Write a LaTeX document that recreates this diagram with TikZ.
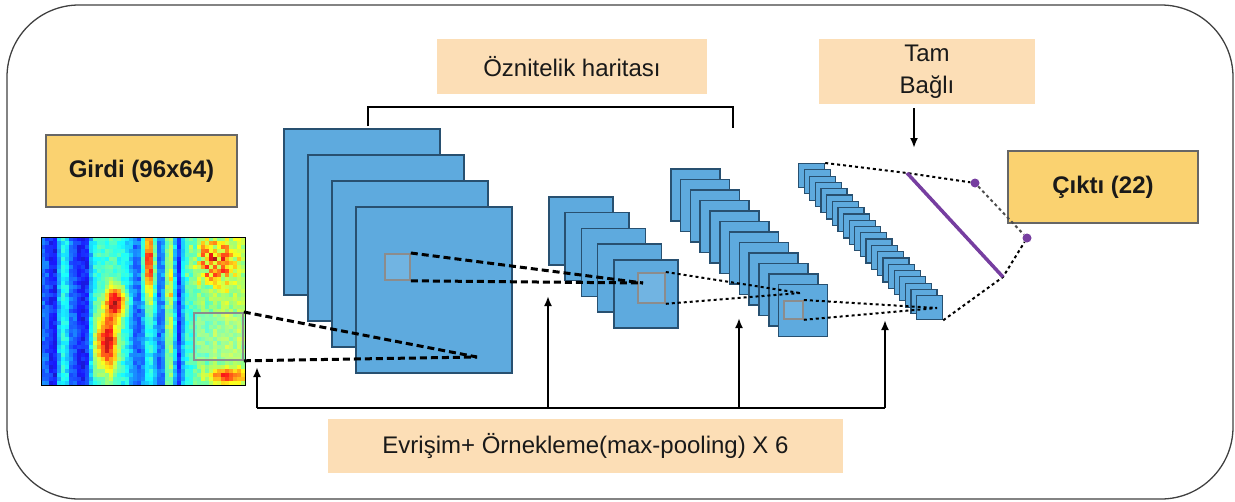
\documentclass[tikz,border=0pt]{standalone}
\usepackage{fontspec}
\setmainfont{Liberation Sans}
\usetikzlibrary{arrows.meta}

\definecolor{mapfill}{RGB}{94,170,222}
\definecolor{mapedge}{RGB}{40,80,112}
\definecolor{boxyellow}{RGB}{250,210,112}
\definecolor{boxpeach}{RGB}{252,222,182}
\definecolor{fcpurple}{RGB}{118,62,160}
\definecolor{inktext}{RGB}{25,25,25}

\tikzset{
  fmap/.style={draw=mapedge, fill=mapfill, line width=1.5pt, inner sep=0pt, anchor=north west},
  patch/.style={draw=black!45, line width=1.8pt, fill=white, fill opacity=0.12, inner sep=0pt, anchor=north west},
  ybox/.style={draw=black!60, line width=1.5pt, fill=boxyellow, inner sep=0pt,
               text=inktext, font=\fontsize{24}{32}\selectfont\bfseries},
  pbox/.style={fill=boxpeach, inner sep=0pt, align=center,
               text=inktext, font=\fontsize{24}{32}\selectfont},
  thickdash/.style={line width=3pt, dash pattern=on 7pt off 4pt},
  thindot/.style={line width=2pt, dash pattern=on 3pt off 3pt},
  feed/.style={line width=2pt, -{Latex[length=10pt,width=8pt]}},
}

\begin{document}
\begin{tikzpicture}[x=1pt, y=-1pt]
\useasboundingbox (0,0) rectangle (1235,501);

% outer frame
\draw[line width=1.3pt, draw=black!75, rounded corners=72pt] (7,5) rectangle (1233,499);

% ---------- input spectrogram (jet colour map) ----------
\def\spcols{{0.22,0.2,0.14,0.12,0.3,0.38,0.35,0.22,0.2,0.14,0.12,0.14,0.3,0.4,0.42,0.4,0.42,0.45,0.42,0.4,0.38,0.35,0.3,0.22,0.2,0.25,0.35,0.38,0.3,0.2,0.25,0.45,0.5,0.3,0.14,0.3,0.4,0.42,0.45,0.48,0.5,0.47,0.48,0.52,0.5,0.52,0.55,0.52,0.52,0.55,0.52}}
\pgfmathsetseed{11}
\begin{scope}
\clip (41,237) rectangle (245,385);
\foreach \i in {0,...,50}{
  \foreach \j in {0,...,36}{
    \pgfmathsetmacro\cx{43+4*\i}
    \pgfmathsetmacro\cy{239+4*\j}
    \pgfmathsetmacro\base{\spcols[\i]}
    \pgfmathsetmacro\vv{\base + 0.1*rnd - 0.05
      + 0.5*exp(-min(9,((\cx-116)/10)^2+((\cy-302)/15)^2))
      + 0.5*exp(-min(9,((\cx-107)/11)^2+((\cy-342)/28)^2))
      + 0.5*exp(-min(9,((\cx-149)/6)^2+((\cy-262)/40)^2))
      + 0.2*rnd*exp(-min(9,((\cx-170)/4)^2+((\cy-300)/40)^2))
      + 0.5*rnd*exp(-min(9,((\cx-212)/22)^2+((\cy-262)/24)^2))
      + 0.35*exp(-min(9,((\cx-228)/18)^2+((\cy-376)/7)^2))}
    \pgfmathsetmacro\vr{max(0,min(1,1.5-abs(4*\vv-3)))}
    \pgfmathsetmacro\vg{max(0,min(1,1.5-abs(4*\vv-2)))}
    \pgfmathsetmacro\vb{max(0,min(1,1.5-abs(4*\vv-1)))}
    \definecolor{spc}{rgb}{\vr,\vg,\vb}
    \fill[spc!90!white] (41+4*\i,237+4*\j) rectangle ++(4.3,4.3);
  }
}
\end{scope}
\node[draw=black, line width=1pt, minimum width=204, minimum height=148, inner sep=0pt, anchor=north west] (spec) at (41,237) {};
\node[patch, minimum width=49, minimum height=47] (p0) at (193,312) {};

% ---------- labels ----------
\node[ybox, minimum width=191, minimum height=72] (girdi) at (141.5,171) {Girdi (96x64)};
\node[ybox, minimum width=190, minimum height=72] (cikti) at (1103,187) {Çıktı (22)};
\node[pbox, minimum width=270, minimum height=55] (oz) at (572,66.5) {Öznitelik haritası};
\node[pbox, minimum width=216, minimum height=65] (tam) at (927,71.5) {Tam\\Bağlı};
\node[pbox, minimum width=515, minimum height=54] (evr) at (585.5,446) {Evrişim+ Örnekleme(max-pooling) X 6};

% ---------- convolution layer 1 ----------
\foreach \k in {0,...,3}
  \node[fmap, minimum width=156, minimum height=166] (la\k) at (283+24*\k,128+26*\k) {};
\node[patch, minimum width=25, minimum height=26] (p1) at (384,253) {};
\coordinate (c1) at (477,357);
\draw[thickdash] (p0.north east) -- (c1);
\draw[thickdash] (p0.south east) -- (c1);

% ---------- convolution layer 2 ----------
\foreach \k in {0,...,4}
  \node[fmap, minimum width=64, minimum height=68] (lb\k) at (548+16.25*\k,196+15.75*\k) {};
\node[patch, minimum width=27, minimum height=30] (p2) at (637,272) {};
\coordinate (c2) at (643,283);
\draw[thickdash] (p1.north east) -- (c2);
\draw[thickdash] (p1.south east) -- (c2);

% ---------- convolution layer 3 ----------
\foreach \k in {0,...,11}
  \node[fmap, minimum width=49, minimum height=52] (lc\k) at (670+9.8*\k,168+10.5*\k) {};
\node[patch, minimum width=19, minimum height=18] (p3) at (783,300) {};
\coordinate (c3) at (800,293);
\draw[thindot] (p2.north east) -- (c3);
\draw[thindot] (p2.south east) -- (c3);

% ---------- fully connected stack ----------
\foreach \k in {0,...,21}
  \node[fmap, line width=1.2pt, minimum width=26, minimum height=24] (fc\k) at (798+5.62*\k,163+6.29*\k) {};
\coordinate (c4) at (937,308);
\draw[thindot] (p3.north east) -- (c4);
\draw[thindot] (p3.south east) -- (c4);

% ---------- output layer ----------
\coordinate (pa) at (907,173);
\coordinate (pb) at (1003,277);
\node[circle, fill=fcpurple, inner sep=0pt, minimum size=9] (o1) at (975,183) {};
\node[circle, fill=fcpurple, inner sep=0pt, minimum size=9] (o2) at (1027,238) {};
\draw[thindot] (fc0.north east) -- (pa) -- (o1);
\draw[thindot, black!70] (o1) -- (o2);
\draw[thindot] (fc21.south east) -- (pb) -- (o2);
\draw[fcpurple, line width=3.5pt] (pa) -- (pb);

% ---------- brackets and arrows ----------
\coordinate (bl) at (368,107);
\coordinate (br) at (733,107);
\draw[line width=2pt] (368,126) -- (bl) -- (br) -- (733,128);

\coordinate (tamtop) at (914,108);
\coordinate (tamtip) at (914,148);
\draw[feed] (tamtop) -- (tamtip);

\coordinate (bus0) at (257,408);
\coordinate (bus1) at (548,408);
\coordinate (bus2) at (739,408);
\coordinate (bus3) at (885,408);
\draw[line width=2.2pt] (bus0) -- (bus3);
\draw[feed] (bus0) -- (257,367);
\draw[feed] (bus1) -- (548,296);
\draw[feed] (bus2) -- (739,318);
\draw[feed] (bus3) -- (885,320);
\end{tikzpicture}
\end{document}
